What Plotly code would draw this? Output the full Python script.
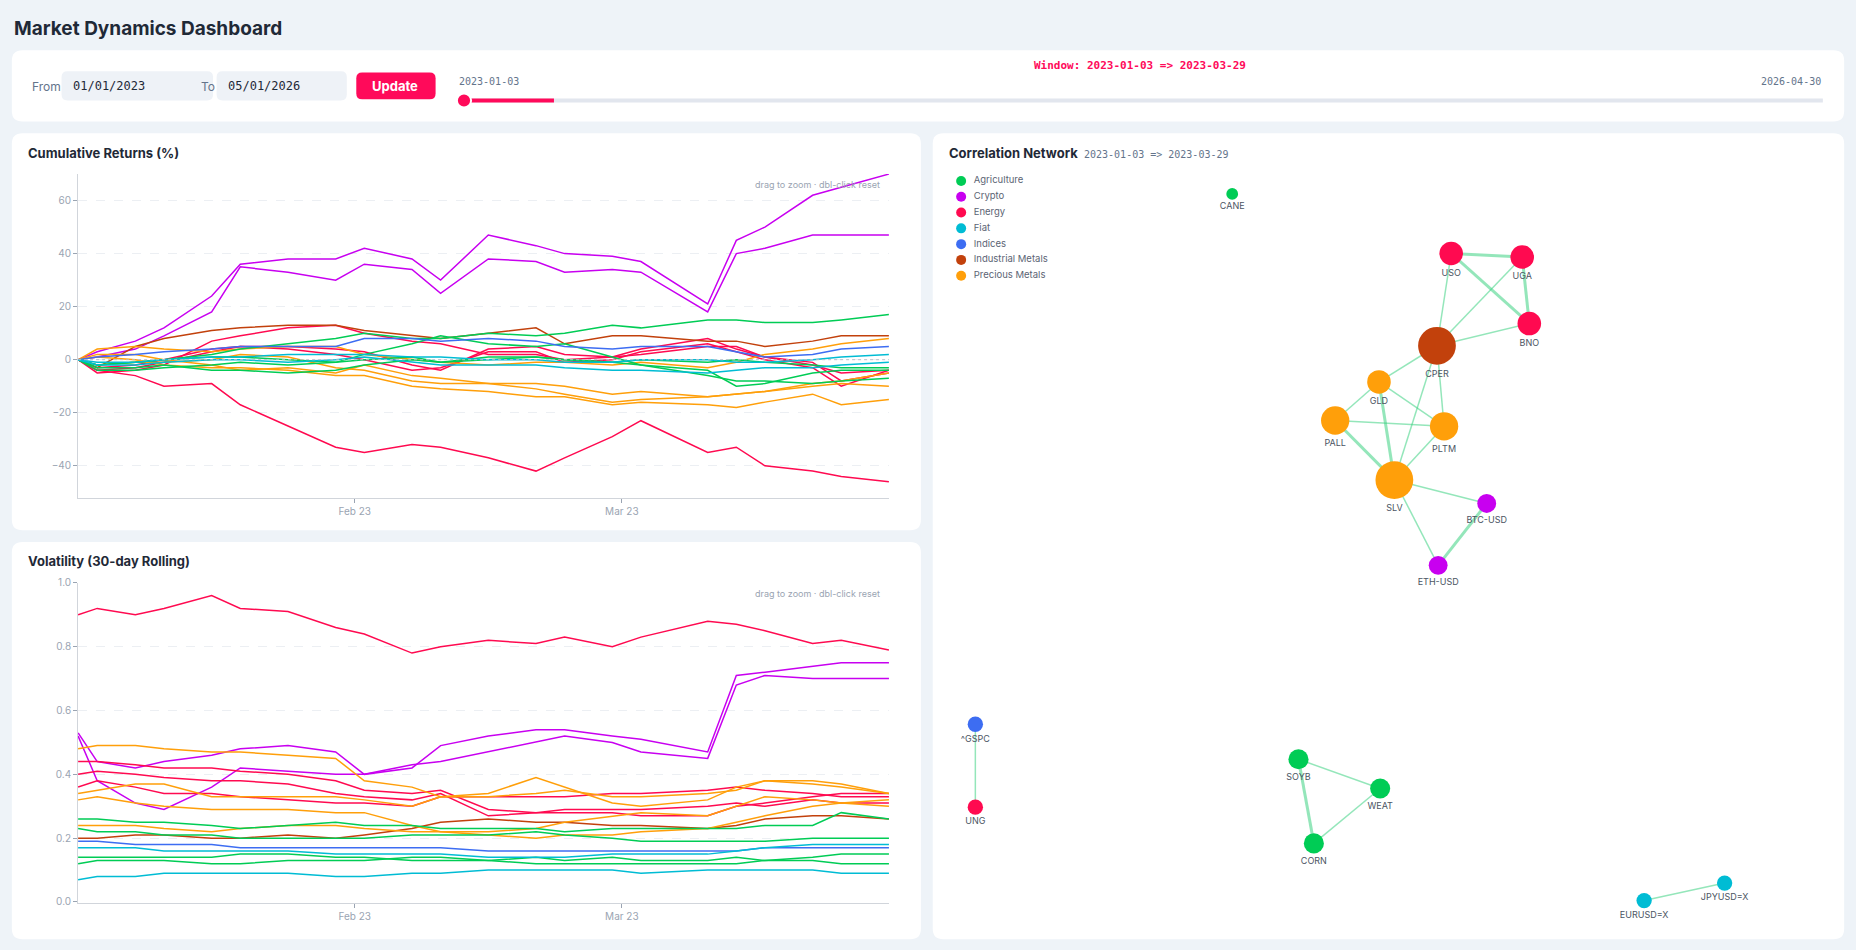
import plotly.graph_objects as go

W, H = 1568.0, 803.0
def px(x): return x / W
def py(y): return 1 - y / H

dates = ["2023-01-03","2023-01-05","2023-01-09","2023-01-12","2023-01-17","2023-01-20","2023-01-25","2023-01-30",
         "2023-02-02","2023-02-07","2023-02-10","2023-02-15","2023-02-20","2023-02-23","2023-02-28","2023-03-03",
         "2023-03-10","2023-03-13","2023-03-16","2023-03-21","2023-03-24","2023-03-29"]

colors = {"Agriculture":"#00cc55","Crypto":"#c800f0","Energy":"#ff0a50","Fiat":"#00bcd4",
          "Indices":"#3d6df2","Industrial Metals":"#c2410c","Precious Metals":"#ff9f0a"}

tickers = ["BTC-USD","ETH-USD","USO","UGA","BNO","UNG","CPER","GLD","SLV","PALL","PLTM",
           "CANE","SOYB","WEAT","CORN","^GSPC","EURUSD=X","JPYUSD=X"]
sector = {"BTC-USD":"Crypto","ETH-USD":"Crypto","USO":"Energy","UGA":"Energy","BNO":"Energy","UNG":"Energy",
          "CPER":"Industrial Metals","GLD":"Precious Metals","SLV":"Precious Metals","PALL":"Precious Metals",
          "PLTM":"Precious Metals","CANE":"Agriculture","SOYB":"Agriculture","WEAT":"Agriculture","CORN":"Agriculture",
          "^GSPC":"Indices","EURUSD=X":"Fiat","JPYUSD=X":"Fiat"}

cum = {
 "BTC-USD":[0,3,7,12,24,36,38,38,42,38,30,47,43,40,39,37,21,45,50,62,65,70],
 "ETH-USD":[0,1,4,9,18,35,33,30,36,34,25,38,37,33,34,33,18,40,42,47,47,47],
 "UNG":[0,-4,-6,-10,-9,-17,-25,-33,-35,-32,-33,-37,-42,-37,-29,-23,-35,-33,-40,-42,-44,-46],
 "USO":[0,-5,-4,-2,7,9,12,13,10,7,6,2,2,0,1,4,8,4,1,-2,-5,-4],
 "UGA":[0,-4,-3,-1,3,5,5,4,3,-2,-4,4,5,2,1,2,5,5,1,-1,-8,-5],
 "BNO":[0,-3,-2,0,4,5,4,2,0,-4,-3,3,3,-1,0,3,6,3,0,-3,-10,-4],
 "CPER":[0,-3,5,8,11,12,13,13,11,9,8,10,12,6,9,9,7,7,5,7,9,9],
 "GLD":[0,4,5,4,3,4,5,5,2,0,-1,-2,-1,-1,-2,-1,-3,-1,2,4,6,8],
 "SLV":[0,2,2,0,-2,-4,-3,-5,-2,-6,-7,-9,-9,-10,-13,-12,-14,-13,-12,-10,-9,-10],
 "PALL":[0,-2,-1,-1,0,2,1,-3,-4,-8,-9,-9,-11,-13,-16,-15,-14,-13,-12,-9,-8,-5],
 "PLTM":[0,1,0,-2,-3,-3,-4,-6,-6,-10,-11,-12,-14,-14,-17,-16,-17,-18,-16,-13,-17,-15],
 "CANE":[0,-2,-1,0,2,4,6,8,10,8,8,10,9,10,13,12,15,15,14,14,15,17],
 "SOYB":[0,-3,-3,-2,-4,-4,-5,-4,-2,0,-1,1,1,0,-1,-2,-4,-10,-9,-5,-4,-4],
 "WEAT":[0,-4,-4,-3,-2,-1,-2,-1,2,6,9,6,5,6,1,-2,-6,-8,-8,-9,-8,-7],
 "CORN":[0,-2,-1,0,1,1,0,-1,0,1,-1,0,1,0,-1,0,-1,0,-1,-2,-3,-3],
 "^GSPC":[0,1,2,3,4,5,5,5,8,8,7,8,7,5,4,5,5,3,1,2,4,5],
 "EURUSD=X":[0,-1,-1,0,1,1,2,2,2,1,1,0,0,-1,-1,0,0,-1,-1,0,1,2],
 "JPYUSD=X":[0,-2,-2,-1,0,0,-1,0,1,-1,-2,-2,-2,-3,-4,-4,-5,-4,-3,-3,-2,-1],
}
vol = {
 "UNG":[0.90,0.92,0.90,0.92,0.96,0.92,0.91,0.86,0.84,0.78,0.80,0.82,0.81,0.83,0.80,0.83,0.88,0.87,0.85,0.81,0.82,0.79],
 "BTC-USD":[0.53,0.44,0.42,0.44,0.46,0.48,0.49,0.47,0.40,0.42,0.49,0.52,0.54,0.54,0.52,0.51,0.47,0.71,0.72,0.74,0.75,0.75],
 "ETH-USD":[0.52,0.38,0.31,0.29,0.36,0.42,0.41,0.40,0.40,0.43,0.44,0.47,0.50,0.52,0.50,0.47,0.45,0.68,0.71,0.70,0.70,0.70],
 "PALL":[0.48,0.49,0.49,0.48,0.47,0.47,0.46,0.45,0.38,0.36,0.33,0.33,0.34,0.35,0.33,0.33,0.34,0.35,0.38,0.38,0.37,0.34],
 "SLV":[0.34,0.35,0.37,0.37,0.33,0.33,0.33,0.33,0.32,0.30,0.33,0.34,0.39,0.36,0.31,0.30,0.32,0.36,0.38,0.37,0.36,0.34],
 "PLTM":[0.32,0.33,0.31,0.30,0.29,0.29,0.29,0.28,0.28,0.24,0.22,0.22,0.23,0.25,0.27,0.28,0.27,0.30,0.33,0.32,0.31,0.30],
 "GLD":[0.24,0.24,0.24,0.23,0.22,0.23,0.24,0.24,0.23,0.22,0.22,0.21,0.20,0.21,0.21,0.22,0.23,0.25,0.27,0.30,0.31,0.32],
 "USO":[0.44,0.44,0.43,0.42,0.42,0.41,0.40,0.38,0.35,0.34,0.35,0.29,0.28,0.29,0.29,0.29,0.30,0.31,0.30,0.32,0.31,0.31],
 "UGA":[0.40,0.41,0.40,0.39,0.38,0.38,0.37,0.34,0.33,0.32,0.34,0.27,0.28,0.28,0.28,0.27,0.27,0.30,0.31,0.33,0.34,0.34],
 "BNO":[0.36,0.38,0.36,0.34,0.34,0.33,0.32,0.31,0.31,0.30,0.33,0.33,0.33,0.33,0.34,0.34,0.35,0.36,0.35,0.34,0.33,0.33],
 "CPER":[0.20,0.20,0.21,0.21,0.20,0.20,0.21,0.20,0.21,0.23,0.25,0.26,0.25,0.25,0.24,0.24,0.23,0.24,0.26,0.27,0.27,0.26],
 "CANE":[0.26,0.26,0.25,0.25,0.24,0.23,0.24,0.25,0.24,0.24,0.23,0.23,0.23,0.22,0.23,0.23,0.23,0.23,0.24,0.24,0.28,0.26],
 "SOYB":[0.23,0.22,0.22,0.21,0.21,0.20,0.20,0.20,0.20,0.21,0.21,0.21,0.22,0.21,0.20,0.19,0.19,0.19,0.19,0.20,0.20,0.20],
 "WEAT":[0.14,0.14,0.14,0.14,0.14,0.15,0.15,0.14,0.14,0.13,0.13,0.13,0.12,0.12,0.12,0.12,0.12,0.12,0.13,0.14,0.15,0.15],
 "CORN":[0.12,0.13,0.13,0.13,0.12,0.12,0.13,0.13,0.13,0.14,0.14,0.13,0.14,0.13,0.14,0.13,0.13,0.14,0.13,0.13,0.12,0.12],
 "^GSPC":[0.19,0.19,0.18,0.18,0.18,0.17,0.17,0.17,0.17,0.17,0.17,0.16,0.16,0.16,0.16,0.16,0.16,0.16,0.17,0.17,0.17,0.17],
 "EURUSD=X":[0.17,0.17,0.17,0.16,0.16,0.16,0.16,0.15,0.15,0.15,0.15,0.14,0.14,0.14,0.15,0.15,0.15,0.16,0.17,0.18,0.18,0.18],
 "JPYUSD=X":[0.07,0.08,0.08,0.09,0.09,0.09,0.09,0.08,0.08,0.09,0.09,0.10,0.10,0.10,0.10,0.09,0.10,0.10,0.10,0.10,0.09,0.09],
}

node_pos = {"CANE":(1041,160),"USO":(1226,211),"UGA":(1286,214),"BNO":(1292,271),"CPER":(1214,290),
            "GLD":(1165,321),"PALL":(1128,354),"PLTM":(1220,359),"SLV":(1178,405),"BTC-USD":(1256,425),
            "ETH-USD":(1215,478),"^GSPC":(824,614),"UNG":(824,685),"SOYB":(1097,644),"WEAT":(1166,669),
            "CORN":(1110,716),"EURUSD=X":(1389,765),"JPYUSD=X":(1457,750)}
node_size = {"CANE":10,"USO":20,"UGA":20,"BNO":20,"CPER":32,"GLD":20,"PALL":24,"PLTM":24,"SLV":32,
             "BTC-USD":16,"ETH-USD":16,"^GSPC":13,"UNG":13,"SOYB":17,"WEAT":17,"CORN":17,"EURUSD=X":13,"JPYUSD=X":13}
edges = [("USO","UGA",3),("UGA","BNO",3),("USO","BNO",3),("USO","CPER",1.5),("UGA","CPER",1.5),("CPER","BNO",1.5),
         ("CPER","GLD",1.5),("CPER","PLTM",1.5),("GLD","PALL",1.5),("GLD","PLTM",1.5),("GLD","SLV",3),
         ("PALL","PLTM",1.5),("PALL","SLV",3),("PLTM","SLV",1.5),("CPER","SLV",1.5),("SLV","BTC-USD",1.5),
         ("BTC-USD","ETH-USD",3),("SLV","ETH-USD",1.5),("^GSPC","UNG",1.5),("SOYB","WEAT",1.5),
         ("SOYB","CORN",3),("WEAT","CORN",1.5),("EURUSD=X","JPYUSD=X",1.5)]
legend_x, legend_y0, legend_dy = 812, 149, 13.5

fig = go.Figure()
for t in tickers:
    c = colors[sector[t]]
    fig.add_trace(go.Scatter(x=dates, y=cum[t], mode="lines", line=dict(color=c, width=1.5),
                             name=t, showlegend=False, xaxis="x", yaxis="y"))
    fig.add_trace(go.Scatter(x=dates, y=vol[t], mode="lines", line=dict(color=c, width=1.5),
                             name=t, showlegend=False, xaxis="x2", yaxis="y2"))
fig.add_trace(go.Scatter(x=[dates[0], dates[-1]], y=[0, 0], mode="lines", showlegend=False,
                         line=dict(color="#b8c0cc", width=1, dash="dot"), xaxis="x", yaxis="y"))

for a, b, w in edges:
    (x0, y0), (x1, y1) = node_pos[a], node_pos[b]
    fig.add_trace(go.Scatter(x=[x0, x1], y=[y0, y1], mode="lines", showlegend=False,
                             line=dict(color="rgba(60,210,130,0.55)", width=w), xaxis="x3", yaxis="y3"))
for t in tickers:
    x, y = node_pos[t]
    fig.add_trace(go.Scatter(x=[x], y=[y], mode="markers+text", text=[t], textposition="bottom center",
                             textfont=dict(size=9, color="#4b5563", family="Inter"), showlegend=False,
                             marker=dict(size=node_size[t]*1.18, color=colors[sector[t]]),
                             xaxis="x3", yaxis="y3"))
for i, (s, c) in enumerate(colors.items()):
    fig.add_trace(go.Scatter(x=[legend_x], y=[legend_y0 + i * legend_dy], mode="markers+text", text=["  " + s],
                             textposition="middle right", textfont=dict(size=9.5, color="#5b6474", family="Inter"),
                             marker=dict(size=10, color=c), showlegend=False, xaxis="x3", yaxis="y3"))

def rrect(x0, y0, x1, y1, fill, r=9):
    rx, ry = r / W, r / H
    X0, X1, Y0, Y1 = px(x0), px(x1), py(y1), py(y0)
    path = (f"M{X0+rx},{Y0} L{X1-rx},{Y0} Q{X1},{Y0} {X1},{Y0+ry} L{X1},{Y1-ry} Q{X1},{Y1} {X1-rx},{Y1} "
            f"L{X0+rx},{Y1} Q{X0},{Y1} {X0},{Y1-ry} L{X0},{Y0+ry} Q{X0},{Y0} {X0+rx},{Y0} Z")
    return dict(type="path", path=path, xref="paper", yref="paper", fillcolor=fill,
                line=dict(width=0), layer="below")

shapes = [rrect(10, 37, 1558, 98, "white"), rrect(10, 108, 778, 448, "white"),
          rrect(10, 458, 778, 798, "white"), rrect(788, 108, 1558, 798, "white"),
          rrect(52, 55, 180, 80, "#eef2f7", 5), rrect(183, 55, 293, 80, "#eef2f7", 5),
          rrect(301, 56, 368, 79, "#ff0a5a", 5)]
shapes.append(dict(type="line", xref="paper", yref="paper", x0=px(390), x1=px(1540), y0=py(80), y1=py(80),
                   line=dict(color="#e2e6ee", width=4)))
shapes.append(dict(type="line", xref="paper", yref="paper", x0=px(390), x1=px(468), y0=py(80), y1=py(80),
                   line=dict(color="#ff0a5a", width=4)))
shapes.append(dict(type="circle", xref="paper", yref="paper", x0=px(386), x1=px(398), y0=py(86), y1=py(74),
                   fillcolor="#ff0a5a", line=dict(color="white", width=2)))

def ann(x, y, text, size, color="#1f2937", xa="left", fam="Inter", bold=False):
    return dict(x=px(x), y=py(y), xref="paper", yref="paper", text=f"<b>{text}</b>" if bold else text,
                showarrow=False, xanchor=xa, yanchor="middle", font=dict(size=size, color=color, family=fam))

mono = "DejaVu Sans Mono"
annots = [
    ann(10, 18, "Market Dynamics Dashboard", 19, bold=True),
    ann(25, 68, "From", 12, "#64748b"), ann(168, 68, "To", 12, "#64748b"),
    ann(60, 68, "01/01/2023", 12, "#1f2937", fam=mono), ann(191, 68, "05/01/2026", 12, "#1f2937", fam=mono),
    ann(334, 68, "Update", 13, "white", xa="center", bold=True),
    ann(963, 50, "<b>Window: 2023-01-03 => 2023-03-29</b>", 11, "#ff0a5a", xa="center", fam=mono),
    ann(386, 64, "2023-01-03", 10, "#64748b", fam=mono), ann(1540, 64, "2026-04-30", 10, "#64748b", xa="right", fam=mono),
    ann(22, 125, "Cumulative Returns (%)", 13, bold=True),
    ann(22, 474, "Volatility (30-day Rolling)", 13, bold=True),
    ann(800, 125, "Correlation Network", 13, bold=True),
    ann(914, 126, "2023-01-03 => 2023-03-29", 10, "#64748b", fam=mono),
    ann(745, 152, "drag to zoom · dbl-click reset", 9, "#9aa4b2", xa="right"),
    ann(745, 502, "drag to zoom · dbl-click reset", 9, "#9aa4b2", xa="right"),
]

ax = dict(showgrid=False, showline=True, linecolor="#d1d5db", ticks="outside", tickcolor="#9aa4b2",
          ticklen=4, tickfont=dict(size=10, color="#9aa4b2", family="Inter"), zeroline=False)
ay = dict(showgrid=True, gridcolor="#eceff3", griddash="dash", showline=True, linecolor="#d1d5db",
          ticks="outside", tickcolor="#9aa4b2", ticklen=4, tickfont=dict(size=10, color="#9aa4b2", family="Inter"),
          zeroline=False)

fig.update_layout(
    width=1856, height=950, margin=dict(l=0, r=0, t=0, b=0), showlegend=False,
    paper_bgcolor="#eef3f8", plot_bgcolor="rgba(0,0,0,0)", font=dict(family="Inter"),
    shapes=shapes, annotations=annots,
    xaxis=dict(ax, domain=[px(66), px(751)], anchor="y", type="date", range=["2023-01-03", "2023-03-29"],
               tickformat="%b %y", dtick="M1"),
    yaxis=dict(ay, domain=[py(420), py(143)], anchor="x", range=[-52, 70], dtick=20),
    xaxis2=dict(ax, domain=[px(66), px(751)], anchor="y2", type="date", range=["2023-01-03", "2023-03-29"],
                tickformat="%b %y", dtick="M1"),
    yaxis2=dict(ay, domain=[py(767), py(493)], anchor="x2", range=[-0.003, 1.0], dtick=0.2, tickformat=".1f"),
    xaxis3=dict(domain=[px(788), px(1558)], anchor="y3", range=[788, 1558], visible=False),
    yaxis3=dict(domain=[py(798), py(108)], anchor="x3", range=[798, 108], visible=False),
)
fig.write_html("out.html", config={"displayModeBar": False},
               post_script="document.body.style.margin='0';document.body.style.overflow='hidden';document.body.style.background='#eef3f8';")
